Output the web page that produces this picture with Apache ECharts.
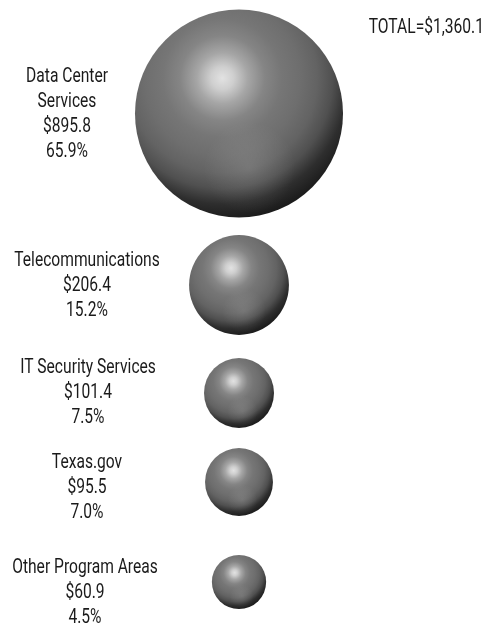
<!DOCTYPE html>
<html>
<head>
<meta charset="utf-8">
<script src="https://cdn.jsdelivr.net/npm/echarts@6/dist/echarts.min.js"></script>
<style>
html,body{margin:0;padding:0;background:#fff;}
#c{width:485px;height:628px;}
</style>
</head>
<body>
<div id="c"></div>
<script>
// ---- data ----
const categories = ['Data Center\nServices', 'Telecommunications', 'IT Security Services', 'Texas.gov', 'Other Program Areas'];
const amounts = [895.8, 206.4, 101.4, 95.5, 60.9];
const percents = [65.9, 15.2, 7.5, 7.0, 4.5];
const total = 1360.1;

// ---- layout (pixel-space helpers, not data) ----
const bubbleX = 239;
const rowY = [113.5, 285, 393, 482, 582];
const labelX = [67, 87, 88, 87, 85];
const labelY = [114.5, 286, 393, 487.5, 593];
const sizeScale = 6.95; // diameter = sizeScale * sqrt(value) (area-proportional)
const FONT = 'Roboto, "Noto Sans", sans-serif';
const FONT_SIZE = 20;
const SQUEEZE = 0.78;

const bubbleData = amounts.map((v, i) => ({ value: [bubbleX, rowY[i], v] }));

function fmtMoney(v) {
  return '$' + v.toLocaleString('en-US', { minimumFractionDigits: 1, maximumFractionDigits: 1 });
}

const sphere = {
  type: 'radial', x: 0.42, y: 0.33, r: 0.68,
  colorStops: [
    { offset: 0, color: '#e2e2e2' },
    { offset: 0.08, color: '#cfcfcf' },
    { offset: 0.18, color: '#a6a6a6' },
    { offset: 0.3, color: '#858585' },
    { offset: 0.42, color: '#767676' },
    { offset: 0.55, color: '#6e6e6e' },
    { offset: 0.67, color: '#636363' },
    { offset: 0.78, color: '#505050' },
    { offset: 0.89, color: '#2e2e2e' },
    { offset: 1, color: '#1c1c1c' }
  ]
};
const reflect = {
  type: 'radial', x: 0.55, y: 0.76, r: 0.22,
  colorStops: [
    { offset: 0, color: 'rgba(255,255,255,0.12)' },
    { offset: 1, color: 'rgba(255,255,255,0)' }
  ]
};

const chart = echarts.init(document.getElementById('c'), null, { renderer: 'canvas' });
chart.setOption({
  backgroundColor: '#ffffff',
  animation: false,
  grid: { left: 0, right: 0, top: 0, bottom: 0 },
  xAxis: { type: 'value', min: 0, max: 485, show: false },
  yAxis: { type: 'value', min: 0, max: 628, inverse: true, show: false },
  series: [
    {
      type: 'scatter',
      data: bubbleData,
      symbol: 'circle',
      symbolSize: d => sizeScale * Math.sqrt(d[2]),
      itemStyle: { color: sphere, opacity: 1 },
      emphasis: { disabled: true },
      z: 2
    },
    {
      type: 'scatter',
      data: bubbleData,
      symbol: 'circle',
      symbolSize: d => sizeScale * Math.sqrt(d[2]),
      itemStyle: { color: reflect, opacity: 1 },
      emphasis: { disabled: true },
      z: 3
    }
  ]
});

// labels placed via the chart's own coordinate conversion
const texts = categories.map((c, i) => {
  const p = chart.convertToPixel({ gridIndex: 0 }, [labelX[i], labelY[i]]);
  return {
    type: 'text', x: p[0], y: p[1], scaleX: SQUEEZE, z: 10,
    style: {
      text: c + '\n' + fmtMoney(amounts[i]) + '\n' + percents[i].toFixed(1) + '%',
      font: FONT_SIZE + 'px ' + FONT,
      lineHeight: 25,
      align: 'center',
      verticalAlign: 'middle',
      fill: '#1a1a1a'
    }
  };
});
const tp = chart.convertToPixel({ gridIndex: 0 }, [484, 28]);
texts.push({
  type: 'text', x: tp[0], y: tp[1], scaleX: SQUEEZE, z: 10,
  style: {
    text: 'TOTAL=' + fmtMoney(total),
    font: FONT_SIZE + 'px ' + FONT,
    align: 'right',
    verticalAlign: 'middle',
    fill: '#1a1a1a'
  }
});
chart.setOption({ graphic: texts });
</script>
</body>
</html>
